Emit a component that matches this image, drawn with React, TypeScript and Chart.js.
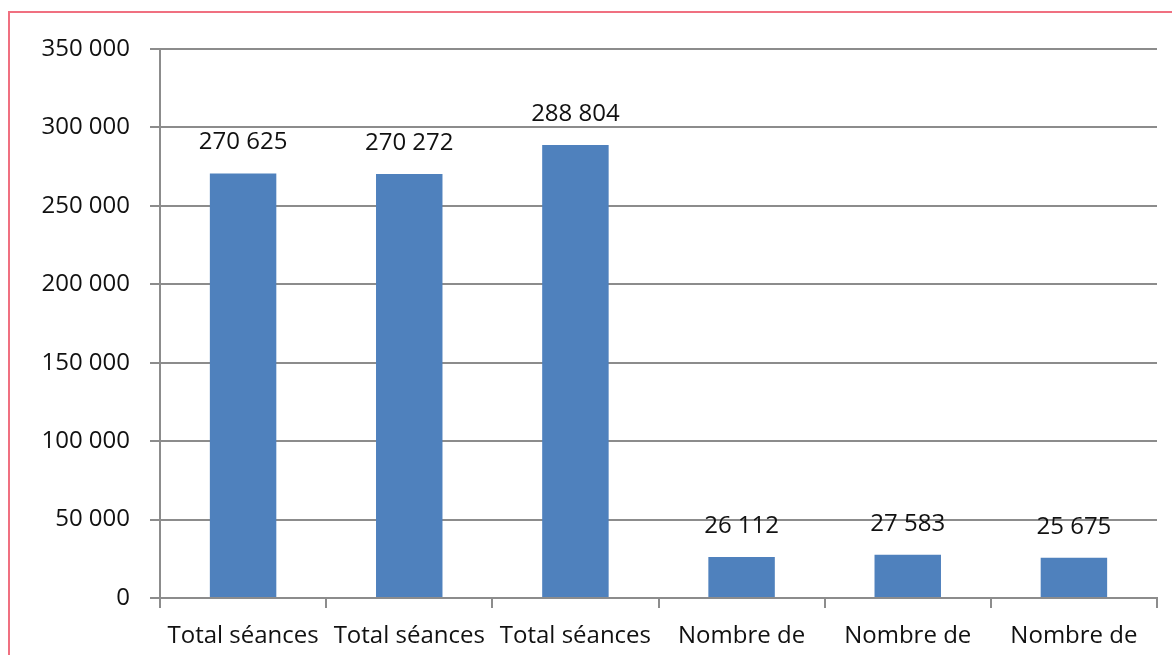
import React, { useEffect, useRef } from "react";
import { Chart, registerables } from "chart.js";

Chart.register(...registerables);

const categories = [
  "Total séances",
  "Total séances",
  "Total séances",
  "Nombre de",
  "Nombre de",
  "Nombre de",
];
const values = [270625, 270272, 288804, 26112, 27583, 25675];
const yTicks = [0, 50000, 100000, 150000, 200000, 250000, 300000, 350000];

const FONT = "'Open Sans', sans-serif";
const FS = 24;
const fmt = (v: number) =>
  String(Math.round(v)).replace(/\B(?=(\d{3})+(?!\d))/g, " ");

const valueLabels = {
  id: "valueLabels",
  afterDatasetsDraw(chart: any) {
    const ctx = chart.ctx;
    const meta = chart.getDatasetMeta(0);
    ctx.save();
    ctx.font = `${FS}px ${FONT}`;
    ctx.fillStyle = "#111111";
    ctx.textAlign = "center";
    ctx.textBaseline = "middle";
    meta.data.forEach((bar: any, i: number) => {
      ctx.fillText(fmt(values[i]), bar.x, bar.y - 31);
    });
    ctx.restore();
  },
};

export default function App() {
  const ref = useRef<HTMLCanvasElement>(null);
  useEffect(() => {
    if (!ref.current) return;
    const chart = new Chart(ref.current, {
      type: "bar",
      data: {
        labels: categories,
        datasets: [
          {
            data: values,
            backgroundColor: "#4f81bd",
            borderWidth: 0,
            categoryPercentage: 1,
            barPercentage: 0.4,
          },
        ],
      },
      plugins: [valueLabels],
      options: {
        responsive: false,
        animation: false,
        layout: { padding: { top: 49, right: 15, left: 0, bottom: 0 } },
        plugins: { legend: { display: false }, tooltip: { enabled: false } },
        scales: {
          x: {
            afterFit: (s: any) => {
              s.height = 82;
            },
            grid: {
              offset: true,
              drawOnChartArea: false,
              tickLength: 10,
              color: "#8c8c8c",
              lineWidth: 2,
            },
            border: { color: "#8c8c8c", width: 2 },
            ticks: {
              color: "#111111",
              font: { family: FONT, size: FS },
              padding: 14,
              maxRotation: 0,
              autoSkip: false,
            },
          },
          y: {
            min: 0,
            max: 350000,
            afterFit: (s: any) => {
              s.width = 160;
            },
            afterBuildTicks: (s: any) => {
              s.ticks = yTicks.map((v) => ({ value: v }));
            },
            grid: {
              tickLength: 10,
              color: "#8c8c8c",
              lineWidth: 2,
            },
            border: { color: "#8c8c8c", width: 2 },
            ticks: {
              color: "#111111",
              font: { family: FONT, size: FS },
              padding: 20,
              callback: (v: any) => fmt(Number(v)),
            },
          },
        },
      },
    });
    return () => chart.destroy();
  }, []);
  return (
    <div
      style={{
        position: "fixed",
        left: 0,
        top: 0,
        width: 1172,
        height: 655,
        overflow: "hidden",
        background: "#fff",
      }}
    >
      <canvas
        ref={ref}
        width={1172}
        height={680}
        style={{ position: "absolute", left: 0, top: 0, width: 1172, height: 680 }}
      />
      <div
        style={{
          position: "absolute",
          left: 8,
          top: 11,
          width: 1300,
          height: 800,
          border: "2px solid #f07080",
          boxSizing: "border-box",
          pointerEvents: "none",
        }}
      />
    </div>
  );
}
